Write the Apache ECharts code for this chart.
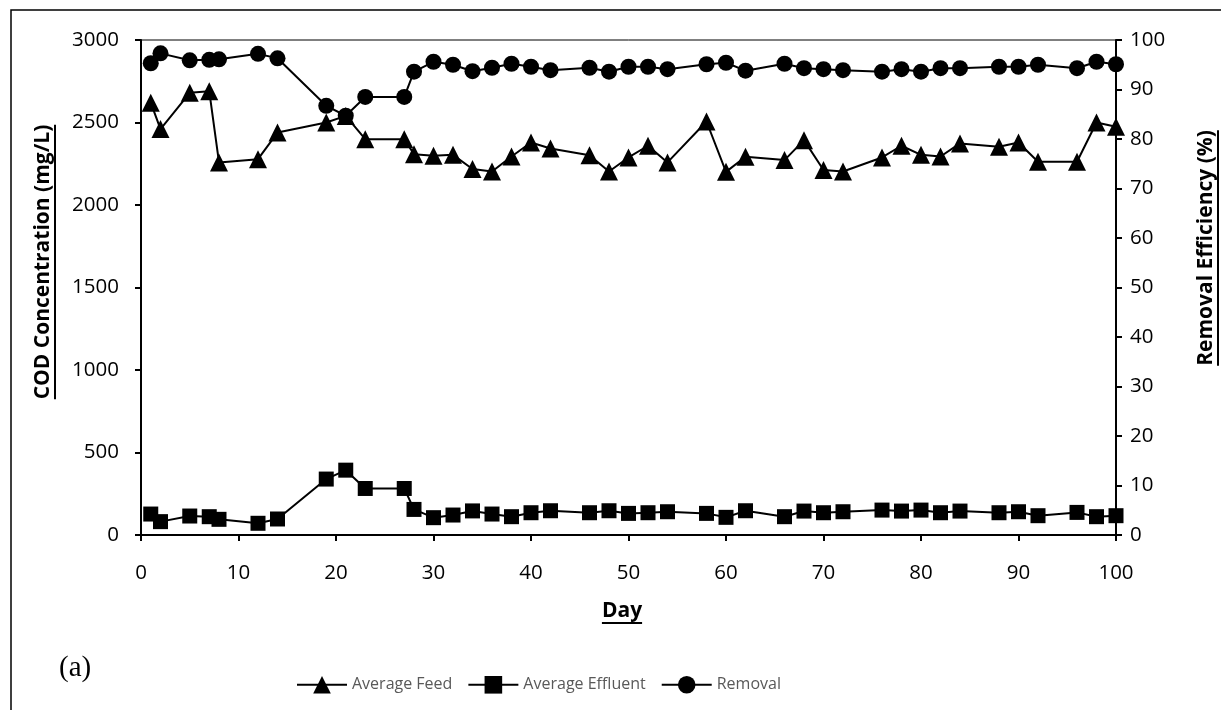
<!DOCTYPE html>
<html>
<head>
<meta charset="utf-8">
<script src="https://cdn.jsdelivr.net/npm/echarts@6/dist/echarts.min.js"></script>
<style>html,body{margin:0;padding:0;background:#fff}#c{width:1221px;height:710px}</style>
</head>
<body>
<div id="c"></div>
<script>
const days = [1,2,5,7,8,12,14,19,21,23,27,28,30,32,34,36,38,40,42,46,48,50,52,54,58,60,62,66,68,70,72,76,78,80,82,84,88,90,92,96,98,100];
const feed = [2620,2460,2680,2690,2258,2278,2439,2500,2540,2399,2399,2308,2298,2304,2218,2203,2294,2379,2342,2302,2203,2288,2359,2258,2506,2201,2292,2272,2393,2212,2203,2288,2359,2304,2294,2373,2353,2379,2262,2262,2500,2474];
const effluent = [127,81,115,111,95,71,97,339,393,282,282,155,105,121,146,127,111,135,147,135,147,131,135,141,131,107,147,111,145,135,141,151,145,151,135,145,135,141,117,137,111,117];
const removal = [95.3,97.3,95.9,96.0,96.1,97.2,96.3,86.7,84.7,88.5,88.5,93.6,95.6,95.0,93.7,94.4,95.2,94.6,93.9,94.4,93.6,94.6,94.6,94.1,95.1,95.4,93.8,95.2,94.3,94.1,93.9,93.6,94.1,93.6,94.3,94.3,94.6,94.6,95.0,94.3,95.6,95.1];
const seriesNames = ['Average Feed','Average Effluent','Removal'];
const xName = 'Day';
const yLeftName = 'COD Concentration (mg/L)';
const yRightName = 'Removal Efficiency (%)';
const panelLabel = '(a)';

const pair = (a) => days.map((d, i) => [d, a[i]]);
const tickFont = {fontFamily: 'Open Sans', fontSize: 20.5, color: '#000', formatter: (v) => String(v)};
const nameFontCss = 'bold 21px "Open Sans"';
const axisLine = {show: true, lineStyle: {color: '#000', width: 2}};
const tick = {show: true, length: 6, lineStyle: {color: '#000', width: 2}};

const ctx = document.createElement('canvas').getContext('2d');
ctx.font = nameFontCss;
const wL = ctx.measureText(yLeftName).width;
const wR = ctx.measureText(yRightName).width;
const wX = ctx.measureText(xName).width;

const cL = {x: 43, y: 262}, cR = {x: 1206, y: 248}, cX = {x: 622, y: 611};

const chart = echarts.init(document.getElementById('c'), null, {renderer: 'canvas'});
chart.setOption({
  animation: false,
  backgroundColor: '#fff',
  grid: {left: 141, right: 105, top: 40, bottom: 175, show: true, borderColor: '#000', borderWidth: 1},
  legend: {
    data: seriesNames, top: 671, left: 291, itemWidth: 50, itemHeight: 22, itemGap: 15,
    textStyle: {fontFamily: 'Open Sans', fontSize: 16, color: '#595959'}
  },
  xAxis: {
    type: 'value', min: 0, max: 100, interval: 10,
    axisLine: axisLine, axisTick: tick,
    axisLabel: Object.assign({margin: 28}, tickFont), splitLine: {show: false}
  },
  yAxis: [{
    type: 'value', min: 0, max: 3000, interval: 500,
    axisLine: axisLine, axisTick: tick,
    axisLabel: Object.assign({margin: 22}, tickFont), splitLine: {show: false}
  }, {
    type: 'value', min: 0, max: 100, interval: 10, position: 'right',
    axisLine: axisLine, axisTick: tick,
    axisLabel: Object.assign({margin: 14}, tickFont), splitLine: {show: false}
  }],
  series: [
    {name: seriesNames[0], type: 'line', yAxisIndex: 0, data: pair(feed), symbol: 'triangle', symbolSize: 18,
     itemStyle: {color: '#000'}, lineStyle: {color: '#000', width: 2}},
    {name: seriesNames[1], type: 'line', yAxisIndex: 0, data: pair(effluent), symbol: 'rect', symbolSize: 15,
     itemStyle: {color: '#000'}, lineStyle: {color: '#000', width: 2}},
    {name: seriesNames[2], type: 'line', yAxisIndex: 1, data: pair(removal), symbol: 'circle', symbolSize: 16,
     itemStyle: {color: '#000'}, lineStyle: {color: '#000', width: 2}}
  ],
  graphic: [
    {type: 'rect', shape: {x: 11, y: 10, width: 1300, height: 800}, style: {fill: 'none', stroke: '#000', lineWidth: 1.5}, silent: true},
    {type: 'text', x: 59, y: 668, style: {text: panelLabel, font: '29px "Liberation Serif"', fill: '#000', textVerticalAlign: 'middle'}},
    {type: 'text', x: cL.x, y: cL.y, rotation: Math.PI / 2, style: {text: yLeftName, font: nameFontCss, fill: '#000', textAlign: 'center', textVerticalAlign: 'middle'}},
    {type: 'text', x: cR.x, y: cR.y, rotation: Math.PI / 2, style: {text: yRightName, font: nameFontCss, fill: '#000', textAlign: 'center', textVerticalAlign: 'middle'}},
    {type: 'text', x: cX.x, y: cX.y, style: {text: xName, font: nameFontCss, fill: '#000', textAlign: 'center', textVerticalAlign: 'middle'}},
    {type: 'line', shape: {x1: cL.x + 12, y1: cL.y - wL / 2, x2: cL.x + 12, y2: cL.y + wL / 2}, style: {stroke: '#000', lineWidth: 2}},
    {type: 'line', shape: {x1: cR.x + 12, y1: cR.y - wR / 2, x2: cR.x + 12, y2: cR.y + wR / 2}, style: {stroke: '#000', lineWidth: 2}},
    {type: 'line', shape: {x1: cX.x - wX / 2, y1: cX.y + 12, x2: cX.x + wX / 2, y2: cX.y + 12}, style: {stroke: '#000', lineWidth: 2}}
  ]
});
</script>
</body>
</html>
